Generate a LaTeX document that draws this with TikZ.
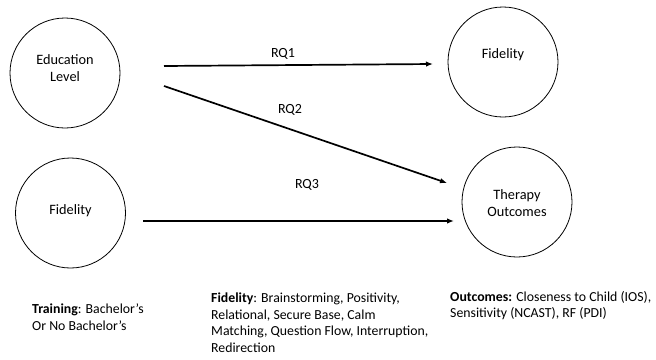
\documentclass[tikz,border=0pt]{standalone}
\usepackage{fontspec}
\setmainfont{Carlito}
\usetikzlibrary{arrows.meta}
\begin{document}
\begin{tikzpicture}[x=1pt,y=-1pt,
  circ/.style={draw, circle, line width=0.8pt, minimum size=110pt, inner sep=0pt},
  ctext/.style={align=center, inner sep=0pt, font=\fontsize{14.3}{16.5}\selectfont},
  rq/.style={line width=1.7pt, -{Latex[length=7pt,width=5.5pt]}},
  rqlabel/.style={font=\fontsize{14}{17}\selectfont},
  note/.style={anchor=north west, align=left, inner sep=0pt,
    font=\fontsize{13.8}{16.5}\selectfont}]
\useasboundingbox (0,0) rectangle (656,359);
\node[circ, label={[ctext,yshift=5pt]center:Education\\Level}] (edu) at (65,73) {};
\node[circ, label={[ctext,yshift=2pt]center:Fidelity}] (fidL) at (70.5,213) {};
\node[circ, label={[ctext,yshift=7pt]center:Fidelity}] (fidR) at (503,62) {};
\node[circ, label={[ctext,yshift=-1pt]center:Therapy\\Outcomes}] (out) at (517,202) {};
\coordinate (s1) at (164,66);
\coordinate (e1) at (433,64);
\coordinate (s2) at (164,86);
\coordinate (e2) at (447,183);
\coordinate (s3) at (143,221);
\coordinate (e3) at (454,221);
\draw[rq] (s1) -- (e1);
\draw[rq] (s2) -- (e2);
\draw[rq] (s3) -- (e3);
\node[rqlabel] (l1) at (283,54) {RQ1};
\node[rqlabel] (l2) at (290,110) {RQ2};
\node[rqlabel] (l3) at (307,185) {RQ3};
\node[note] (n1) at (32,304) {\textbf{Training}: Bachelor’s\\Or No Bachelor’s};
\node[note] (n2) at (211,293) {\textbf{Fidelity}: Brainstorming, Positivity,\\Relational, Secure Base, Calm\\Matching, Question Flow, Interruption,\\Redirection};
\node[note] (n3) at (450,291) {\textbf{Outcomes:} Closeness to Child (IOS),\\Sensitivity (NCAST), RF (PDI)};
\end{tikzpicture}
\end{document}
